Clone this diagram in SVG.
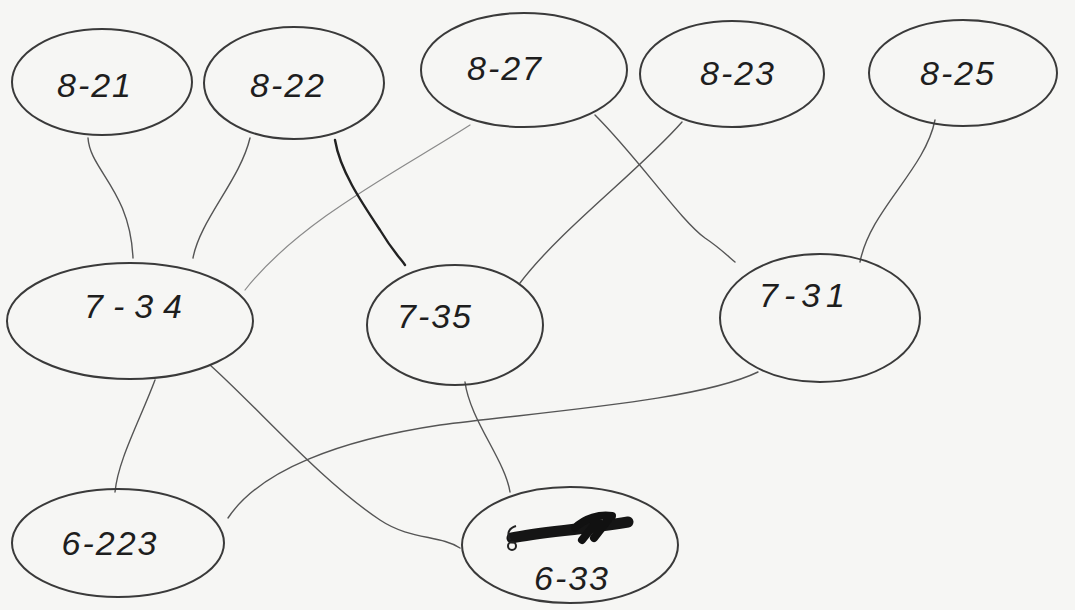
<svg xmlns="http://www.w3.org/2000/svg" width="1075" height="610" viewBox="0 0 1075 610">
<style>
.bg{fill:#f6f6f4}
.node{fill:none;stroke:#3a3a3a;stroke-width:2;stroke-linecap:round}
.edge{fill:none;stroke:#555;stroke-width:1.4;stroke-linecap:round}
.dark{stroke:#222;stroke-width:2.4}
.light{stroke:#8a8a8a;stroke-width:1.2}
.lbl{font-family:"Liberation Sans",Arial,sans-serif;font-size:34px;fill:#1e1e1e;text-anchor:middle;font-style:italic;letter-spacing:2px}
</style>
<rect class="bg" x="0" y="0" width="1075" height="610"/>
<g id="connectors">
<path class="edge" d="M88,138 C90,170 130,190 133,258"/>
<path class="edge" d="M250,138 C240,180 200,220 193,258"/>
<path class="edge light" d="M470,125 C400,170 300,220 245,290"/>
<path class="edge dark" d="M335,140 C340,170 360,200 380,230 C392,250 400,258 405,265"/>
<path class="edge" d="M682,122 C640,170 560,230 520,283"/>
<path class="edge" d="M595,115 C640,160 680,220 705,238 C720,248 730,258 735,262"/>
<path class="edge" d="M935,120 C925,170 870,210 860,262"/>
<path class="edge" d="M155,380 C140,420 118,460 115,492"/>
<path class="edge" d="M210,365 C260,410 320,480 380,520 C410,540 440,535 460,548"/>
<path class="edge" d="M465,382 C470,420 505,460 510,492"/>
<path class="edge" d="M758,372 C700,400 560,410 440,425 C340,440 260,470 228,518"/>
</g>
<g id="n8-21">
<ellipse class="node" cx="102" cy="82" rx="90" ry="53"/>
<text class="lbl" x="95" y="97">8-21</text>
</g>
<g id="n8-22">
<ellipse class="node" cx="294" cy="83" rx="90" ry="56"/>
<text class="lbl" x="288" y="97">8-22</text>
</g>
<g id="n8-27">
<ellipse class="node" cx="524" cy="70" rx="103" ry="57"/>
<text class="lbl" x="505" y="80">8-27</text>
</g>
<g id="n8-23">
<ellipse class="node" cx="732" cy="74" rx="92" ry="53"/>
<text class="lbl" x="738" y="85">8-23</text>
</g>
<g id="n8-25">
<ellipse class="node" cx="963" cy="73" rx="94" ry="53"/>
<text class="lbl" x="958" y="85">8-25</text>
</g>
<g id="n7-34">
<ellipse class="node" cx="130" cy="321" rx="123" ry="58"/>
<text class="lbl" x="138" y="318" style="letter-spacing:10px">7-34</text>
</g>
<g id="n7-35">
<ellipse class="node" cx="455" cy="325" rx="88" ry="60"/>
<text class="lbl" x="435" y="328">7-35</text>
</g>
<g id="n7-31">
<ellipse class="node" cx="820" cy="318" rx="100" ry="64"/>
<text class="lbl" x="805" y="307" style="letter-spacing:6px">7-31</text>
</g>
<g id="n6-223">
<ellipse class="node" cx="118" cy="543" rx="106" ry="54"/>
<text class="lbl" x="110" y="555">6-223</text>
</g>
<g id="n6-33">
<ellipse class="node" cx="570" cy="545" rx="108" ry="58"/>
<path d="M512,538 C540,532 580,530 628,522" fill="none" stroke="#151515" stroke-width="11" stroke-linecap="round"/>
<path d="M575,528 C585,518 600,514 612,516 M582,540 L598,520 M594,538 L608,520" fill="none" stroke="#111" stroke-width="8" stroke-linecap="round"/>
<path d="M510,540 C506,532 510,528 516,526" fill="none" stroke="#222" stroke-width="2"/>
<circle cx="512" cy="546" r="4" fill="none" stroke="#222" stroke-width="2"/>
<text class="lbl" x="572" y="590">6-33</text>
</g>
</svg>
